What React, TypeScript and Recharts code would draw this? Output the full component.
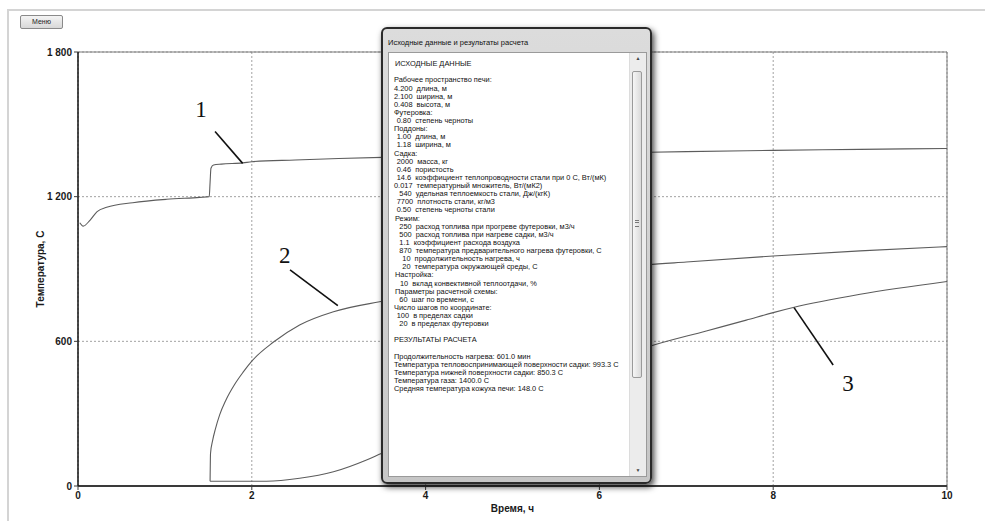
import React from 'react';
import { LineChart, Line, XAxis, YAxis, CartesianGrid, ReferenceLine, ReferenceDot, Label } from 'recharts';

const xTicks = [0, 2, 4, 6, 8, 10];
const yTicks = [0, 600, 1200, 1800];

// Curve 1
const curve1Time = [0.02, 0.06, 0.14, 0.22, 0.33, 0.63, 1.02, 1.4, 1.51, 1.52, 1.53, 1.56, 1.65, 1.9, 2.0, 2.5, 3.0, 3.5, 4, 5, 6, 6.55, 7, 8, 9, 10];
const curve1Temp = [1092, 1078, 1103, 1138, 1156, 1175, 1189, 1197, 1200, 1260, 1318, 1331, 1335, 1340, 1345, 1352, 1358, 1363, 1367, 1374, 1380, 1384, 1387, 1392, 1396, 1400];
// Curve 2
const curve2Time = [1.52, 1.525, 1.55, 1.58, 1.63, 1.7, 1.8, 1.9, 2.0, 2.25, 2.55, 2.94, 3.47, 4, 5, 6, 6.55, 7, 8, 9, 10];
const curve2Temp = [20, 135, 190, 235, 295, 355, 420, 472, 518, 597, 668, 723, 764, 795, 850, 893, 917, 929, 954, 975, 993];
// Curve 3
const curve3Time = [1.52, 2.17, 2.55, 2.94, 3.32, 3.49, 4, 4.5, 5, 5.5, 6, 6.54, 7.23, 7.69, 8.0, 8.23, 9, 10];
const curve3Temp = [20, 20, 32, 59, 108, 135, 210, 285, 360, 433, 505, 575, 643, 688, 719, 740, 795, 848];

// Callouts
const calloutIds = ['1', '2', '3'];
const calloutTime = [1.415, 2.38, 8.86];
const calloutTemp = [1564, 958, 427];
const leaderFromTime = [1.577, 2.44, 8.24];
const leaderFromTemp = [1470, 896, 740];
const leaderToTime = [1.895, 2.99, 8.69];
const leaderToTemp = [1338, 748, 502];

const dialogTitle = 'Исходные данные и результаты расчета';
const dialogIndent = [1, -1, 0, 0, 0, 0, 0, 2.7, 0, 2.7, 2.7, 0, 2.7, 2.7, 2.7, 0, 5.3, 2.7, 2.7, 1, 5.3, 5.3, 5.3, 5.3, 8.3, 8.3, 1, 6, 1, 5.3, 0, 2.7, 5.3, -1, 0, -1, 0, 0, 0, 0, 0];
const dialogLines = [
  'ИСХОДНЫЕ ДАННЫЕ',
  '',
  'Рабочее пространство печи:',
  '4.200  длина, м',
  '2.100  ширина, м',
  '0.408  высота, м',
  'Футеровка:',
  '0.80  степень черноты',
  'Поддоны:',
  '1.00  длина, м',
  '1.18  ширина, м',
  'Садка:',
  '2000  масса, кг',
  '0.46  пористость',
  '14.6  коэффициент теплопроводности стали при 0 С, Вт/(мК)',
  '0.017  температурный множитель, Вт/(мК2)',
  '540  удельная теплоемкость стали, Дж/(кгК)',
  '7700  плотность стали, кг/м3',
  '0.50  степень черноты стали',
  'Режим:',
  '250  расход топлива при прогреве футеровки, м3/ч',
  '500  расход топлива при нагреве садки, м3/ч',
  '1.1  коэффициент расхода воздуха',
  '870  температура предварительного нагрева футеровки, С',
  '10  продолжительность нагрева, ч',
  '20  температура окружающей среды, С',
  'Настройка:',
  '10  вклад конвективной теплоотдачи, %',
  'Параметры расчетной схемы:',
  '60  шаг по времени, с',
  'Число шагов по координате:',
  '100  в пределах садки',
  '20  в пределах футеровки',
  '',
  'РЕЗУЛЬТАТЫ РАСЧЕТА',
  '',
  'Продолжительность нагрева: 601.0 мин',
  'Температура тепловоспринимающей поверхности садки: 993.3 С',
  'Температура нижней поверхности садки: 850.3 С',
  'Температура газа: 1400.0 С',
  'Средняя температура кожуха печи: 148.0 С',
];

const toData = (t: number[], v: number[]) => t.map((x, i) => ({ x, t: v[i] }));
const curve1 = toData(curve1Time, curve1Temp);
const curve2 = toData(curve2Time, curve2Temp);
const curve3 = toData(curve3Time, curve3Temp);

const fmtY = (v: number) => (v >= 1000 ? `${Math.floor(v / 1000)} ${String(v % 1000).padStart(3, '0')}` : String(v));

const sans = '"Liberation Sans", Arial, sans-serif';
const tickStyle = { fontSize: 10, fontWeight: 700, fill: '#1a1a1a', fontFamily: sans };
const curveColor = '#5c5c5c';

export default function App() {
  return (
    <div style={{ position: 'absolute', left: 0, top: 0, width: 985, height: 521, overflow: 'hidden', background: '#fff' }}>
      <div style={{ position: 'absolute', left: 7, top: 9, width: 990, height: 520, borderLeft: '2px solid #d4d4d4', borderTop: '2px solid #d4d4d4' }} />
      <div style={{ position: 'absolute', left: 20, top: 15, width: 43, height: 14, boxSizing: 'border-box', border: '1px solid #8a8a8a', borderRadius: 2, background: 'linear-gradient(#f4f4f4, #d8d8d8)', fontFamily: sans, fontSize: 7, lineHeight: '12px', textAlign: 'center', color: '#222' }}>Меню</div>
      <div style={{ position: 'absolute', left: 0, top: 0 }}>
        <LineChart width={985} height={521} margin={{ top: 52, right: 38, bottom: 0, left: 0 }}>
          <CartesianGrid stroke="#8a8a8a" strokeDasharray="2 2" strokeWidth={0.8} />
          <ReferenceLine y={1800} stroke="#7a7a7a" strokeWidth={1} />
          <ReferenceLine x={10} stroke="#7a7a7a" strokeWidth={1} />
          <XAxis
            type="number"
            dataKey="x"
            domain={[0, 10]}
            ticks={xTicks}
            tick={tickStyle}
            tickSize={4}
            tickMargin={2}
            height={35}
            axisLine={{ stroke: '#3a3a3a', strokeWidth: 2 }}
            tickLine={{ stroke: '#3a3a3a' }}
            allowDataOverflow
          >
            <Label value="Время, ч" position="insideBottom" offset={9} style={{ fontSize: 10, fontWeight: 700, fill: '#1a1a1a', fontFamily: sans }} />
          </XAxis>
          <YAxis
            type="number"
            domain={[0, 1800]}
            ticks={yTicks}
            tick={tickStyle}
            tickFormatter={fmtY}
            tickSize={4}
            tickMargin={2}
            width={78}
            axisLine={{ stroke: '#111', strokeWidth: 1.5 }}
            tickLine={{ stroke: '#3a3a3a' }}
            allowDataOverflow
          >
            <Label value="Температура, С" angle={-90} position="insideLeft" offset={40} style={{ textAnchor: 'middle', fontSize: 10, fontWeight: 700, fill: '#1a1a1a', fontFamily: sans }} />
          </YAxis>
          <Line data={curve1} dataKey="t" type="monotone" stroke={curveColor} strokeWidth={1.1} dot={false} isAnimationActive={false} />
          <Line data={curve2} dataKey="t" type="monotone" stroke={curveColor} strokeWidth={1.1} dot={false} isAnimationActive={false} />
          <Line data={curve3} dataKey="t" type="monotone" stroke={curveColor} strokeWidth={1.1} dot={false} isAnimationActive={false} />
          {calloutIds.map((id, i) => (
            <ReferenceLine
              key={'l' + id}
              segment={[{ x: leaderFromTime[i], y: leaderFromTemp[i] }, { x: leaderToTime[i], y: leaderToTemp[i] }]}
              stroke="#111"
              strokeWidth={1.6}
            />
          ))}
          {calloutIds.map((id, i) => (
            <ReferenceDot
              key={'d' + id}
              x={calloutTime[i]}
              y={calloutTemp[i]}
              r={0}
              stroke="none"
              fill="none"
              label={{ value: id, position: 'center', fontSize: 23, fontFamily: '"Liberation Serif", "Times New Roman", serif', fill: '#111' }}
            />
          ))}
        </LineChart>
      </div>
      {/* dialog window */}
      <div style={{ position: 'absolute', left: 381, top: 27, width: 271, height: 457, boxSizing: 'border-box', border: '2px solid #2a2a2a', borderRadius: 6, background: 'linear-gradient(#dcdcdc, #c6c6c6)', boxShadow: '2px 3px 6px rgba(0,0,0,0.75)' }}>
        <div style={{ position: 'absolute', left: 5, top: 9, fontFamily: sans, fontSize: 7.5, lineHeight: '9px', color: '#111', whiteSpace: 'nowrap' }}>{dialogTitle}</div>
        <div style={{ position: 'absolute', left: 5, top: 23, width: 259, height: 425, boxSizing: 'border-box', border: '1px solid #9a9a9a', background: '#fff', overflow: 'hidden' }}>
          <div style={{ position: 'absolute', left: 5, top: 7.2 }}>
            {dialogLines.map((line, i) => (
              <div key={i} style={{ height: 8.14, lineHeight: '8.14px', paddingLeft: Math.max(0, dialogIndent[i]), fontFamily: sans, fontSize: 7.4, color: '#111', whiteSpace: 'pre' }}>{line}</div>
            ))}
          </div>
          <div style={{ position: 'absolute', right: 0, top: 0, width: 16, height: 423, background: '#ececec', borderLeft: '1px solid #dcdcdc' }}>
            <div style={{ position: 'absolute', left: 0, top: 2, width: 16, textAlign: 'center', fontSize: 5, color: '#444', fontFamily: sans }}>▲</div>
            <div style={{ position: 'absolute', left: 2, top: 18, width: 10, height: 307, boxSizing: 'border-box', border: '1px solid #9a9a9a', borderRadius: 2, background: 'linear-gradient(to right, #f6f6f6, #dadada)' }}>
              <div style={{ position: 'absolute', left: 2, top: 148, width: 4, height: 5, borderTop: '1px solid #777', borderBottom: '1px solid #777' }} />
              <div style={{ position: 'absolute', left: 2, top: 150, width: 4, height: 0, borderTop: '1px solid #777' }} />
            </div>
            <div style={{ position: 'absolute', left: 0, bottom: 3, width: 16, textAlign: 'center', fontSize: 5, color: '#444', fontFamily: sans }}>▼</div>
          </div>
        </div>
      </div>
    </div>
  );
}
